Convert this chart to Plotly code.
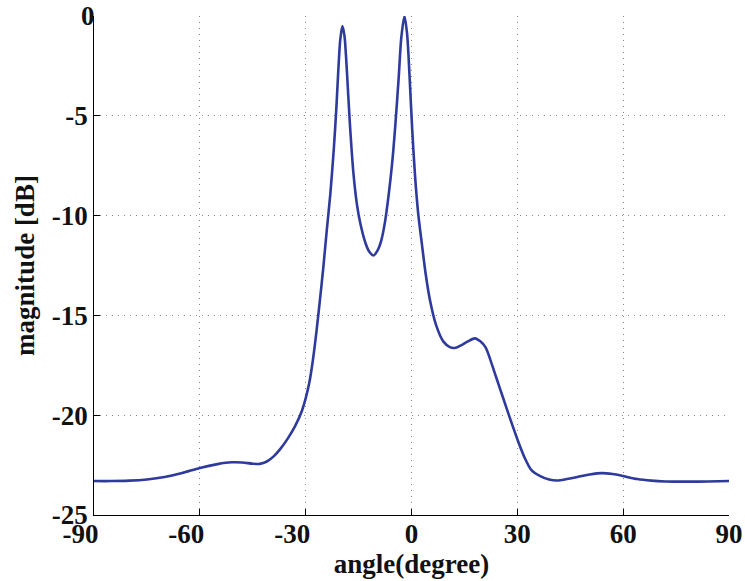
import plotly.graph_objects as go

# angle (degree) and magnitude (dB)
angle_deg = [-90, -85, -80, -75, -70, -65, -60, -55, -51, -48, -45, -43, -41, -39, -37, -35,
             -33, -31, -29, -28, -27, -26, -25, -24, -23, -22, -21.3, -20.8, -20.2, -19.6,
             -19, -18.3, -17.5, -16.5, -15.5, -14.5, -13, -12, -10.8, -9.5, -8.5, -7.5, -6.5,
             -5.5, -4.6, -3.6, -2.9, -2.0, -1.25, -0.5, 0.2, 1.0, 1.9, 3.0, 4, 5.2, 7, 9, 11,
             12.5, 14, 16, 18, 19.5, 21, 22.5, 24, 26, 28, 30, 32, 34, 36.5, 39, 41.3, 44, 47,
             50.5, 54, 57, 60, 64, 68, 72, 78, 84, 90]
magnitude_db = [-23.3, -23.3, -23.28, -23.22, -23.1, -22.9, -22.64, -22.45, -22.36, -22.37,
                -22.43, -22.44, -22.32, -22.05, -21.65, -21.15, -20.55, -19.75, -18.4, -17.3,
                -15.9, -14.3, -12.6, -10.7, -8.9, -6.6, -4.6, -2.9, -1.2, -0.5, -1.0, -2.8,
                -5.3, -7.8, -9.4, -10.4, -11.4, -11.8, -12.0, -11.7, -11.2, -10.3, -9.0, -7.4,
                -5.5, -3.0, -1.1, 0.0, -0.9, -3.2, -5.7, -8.0, -9.9, -11.5, -12.9, -14.2, -15.5,
                -16.3, -16.6, -16.62, -16.5, -16.3, -16.15, -16.3, -16.6, -17.3, -18.1, -19.15,
                -20.2, -21.2, -22.1, -22.75, -23.05, -23.22, -23.27, -23.2, -23.1, -22.97, -22.9,
                -22.95, -23.05, -23.2, -23.28, -23.32, -23.33, -23.32, -23.3]

x_ticks = [-90, -60, -30, 0, 30, 60, 90]
x_tick_labels = ["-90", "-60", "-30", "0", "30", "60", "90"]
y_ticks = [0, -5, -10, -15, -20, -25]
y_tick_labels = ["0", "-5", "-10", "-15", "-20", "-25"]

FONT = "Liberation Serif"


def pad_neg(lbl, pad):
    return lbl + pad if lbl.startswith("-") else lbl


fig = go.Figure()
fig.add_trace(go.Scatter(
    x=angle_deg, y=magnitude_db, mode="lines",
    line=dict(color="#2E3A9C", width=2.6, shape="spline", smoothing=0.8),
    showlegend=False, hoverinfo="x+y",
))

axis_common = dict(
    showline=True, linecolor="black", linewidth=1, mirror=False,
    ticks="inside", ticklen=6, tickcolor="black", tickwidth=1,
    showgrid=True, gridcolor="#8a8a8a", gridwidth=1, griddash="1px,5px",
    zeroline=False,
    tickfont=dict(family=FONT, size=27, color="#111", weight="bold"),
    title_font=dict(family=FONT, size=27, color="#111", weight="bold"),
)

fig.update_xaxes(
    range=[-90, 90], tickvals=x_ticks,
    ticktext=[pad_neg(t, "\u2002\u2002") for t in x_tick_labels],
    title_text="angle(degree)", title_standoff=0, ticklabelstandoff=-5,
    **axis_common,
)
fig.update_yaxes(
    range=[-25, 0], tickvals=y_ticks,
    ticktext=[pad_neg(t, "\u2005") for t in y_tick_labels],
    title_text="magnitude [dB]", title_standoff=9, ticklabelstandoff=-7,
    **axis_common,
)

fig.update_layout(
    width=745, height=581,
    margin=dict(l=94, r=16, t=16, b=66, autoexpand=False),
    paper_bgcolor="white", plot_bgcolor="white",
)

fig.write_html(
    "out.html",
    config={"displayModeBar": False},
    post_script="document.body.style.margin='0';document.body.style.overflow='hidden';",
)
